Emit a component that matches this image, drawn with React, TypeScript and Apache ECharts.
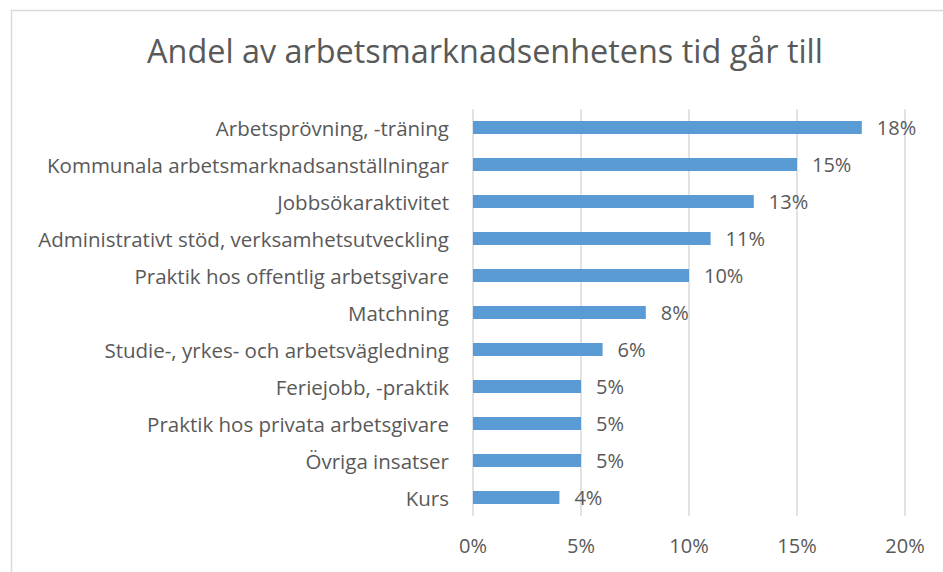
import React, { useEffect, useRef } from "react";
import * as echarts from "echarts";

const categories = [
  "Arbetsprövning, -träning",
  "Kommunala arbetsmarknadsanställningar",
  "Jobbsökaraktivitet",
  "Administrativt stöd, verksamhetsutveckling",
  "Praktik hos offentlig arbetsgivare",
  "Matchning",
  "Studie-, yrkes- och arbetsvägledning",
  "Feriejobb, -praktik",
  "Praktik hos privata arbetsgivare",
  "Övriga insatser",
  "Kurs",
];
const values = [18, 15, 13, 11, 10, 8, 6, 5, 5, 5, 4];
const title = "Andel av arbetsmarknadsenhetens tid går till";

const FONT = "Open Sans";
const TXT = "#595959";

export default function App() {
  const ref = useRef<HTMLDivElement>(null);
  useEffect(() => {
    const chart = echarts.init(ref.current!, null, { renderer: "svg" });
    chart.setOption({
      animation: false,
      backgroundColor: "#ffffff",
      title: {
        text: title,
        left: 480,
        textAlign: "center",
        top: 29,
        textStyle: { fontFamily: FONT, fontSize: 32.4, fontWeight: "normal", color: TXT },
      },
      graphic: [
        {
          type: "rect",
          shape: { x: 11.5, y: 10.5, width: 960, height: 600 },
          style: { fill: "none", stroke: "#D9D9D9", lineWidth: 1.5 },
          silent: true,
        },
      ],
      grid: { left: 473, right: 38, top: 109, height: 407 },
      xAxis: {
        type: "value",
        min: 0,
        max: 20,
        interval: 5,
        axisLine: { show: false },
        axisTick: { show: false },
        splitLine: { lineStyle: { color: "#D9D9D9", width: 1.5 } },
        axisLabel: {
          formatter: "{value}%",
          margin: 19,
          fontFamily: FONT,
          fontSize: 20,
          color: TXT,
        },
      },
      yAxis: {
        type: "category",
        data: categories,
        inverse: true,
        axisLine: { show: false },
        axisTick: { show: false },
        axisLabel: { margin: 24, fontFamily: FONT, fontSize: 20.5, color: TXT },
      },
      series: [
        {
          type: "bar",
          data: values,
          barWidth: 13,
          itemStyle: { color: "#5B9BD5" },
          label: {
            show: true,
            position: "right",
            distance: 15,
            formatter: "{c}%",
            fontFamily: FONT,
            fontSize: 20,
            color: TXT,
          },
        },
      ],
    });
    return () => chart.dispose();
  }, []);
  return (
    <div
      ref={ref}
      style={{ position: "absolute", left: 0, top: 0, width: 943, height: 572 }}
    />
  );
}
